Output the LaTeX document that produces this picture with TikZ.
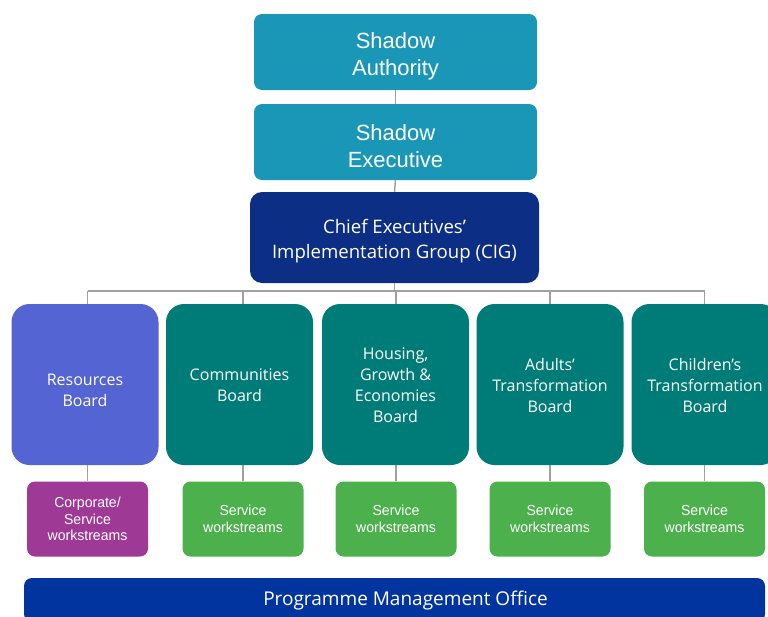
\documentclass[tikz,border=0pt]{standalone}
\usepackage{fontspec}
\setmainfont{Open Sans}
\newfontfamily\arialf{Liberation Sans}
\newfontfamily\narrowf[FakeStretch=0.97]{Liberation Sans}
\definecolor{shadowc}{RGB}{26,150,182}
\definecolor{cigc}{RGB}{12,46,132}
\definecolor{resc}{RGB}{84,100,210}
\definecolor{boardc}{RGB}{0,124,120}
\definecolor{corpc}{RGB}{158,58,150}
\definecolor{servc}{RGB}{76,176,76}
\definecolor{pmoc}{RGB}{2,52,160}
\definecolor{linec}{RGB}{160,160,160}
\tikzset{
  basebox/.style={inner sep=0pt, anchor=center},
  lab/.style={inner sep=0pt, align=center, text=white, anchor=center},
  shadowtxt/.style={lab, yshift=-4pt, font=\arialf\fontsize{22}{27}\selectfont},
  cigtxt/.style={lab, yshift=-4pt, font=\fontsize{18.6}{25}\selectfont},
  boardtxt/.style={lab, yshift=-1pt, font=\fontsize{16}{21}\selectfont},
  wstxt/.style={lab, font=\narrowf\fontsize{14.5}{16.5}\selectfont},
  pmotxt/.style={lab, xshift=11pt, yshift=-1pt, font=\fontsize{19}{22}\selectfont},
  shadowbox/.style={basebox, fill=shadowc, rounded corners=8pt, minimum width=283pt, minimum height=76pt},
  cigbox/.style={basebox, fill=cigc, rounded corners=12pt, minimum width=289pt, minimum height=91pt},
  boardbox/.style={basebox, fill=boardc, rounded corners=18pt, minimum width=147pt, minimum height=161pt},
  wsbox/.style={basebox, fill=servc, rounded corners=8pt, minimum width=121pt, minimum height=75pt},
  pmobox/.style={basebox, fill=pmoc, rounded corners=8pt, minimum width=741pt, minimum height=44pt},
  conn/.style={draw=linec, line width=1.5pt}
}
\begin{document}
\begin{tikzpicture}[x=1pt,y=-1pt]
\useasboundingbox (0,0) rectangle (768,616);
\coordinate (bus) at (0,291);
\node[shadowbox, label={[shadowtxt]center:{Shadow\\Authority}}] (auth) at (395.5,52) {};
\node[shadowbox, label={[shadowtxt]center:{Shadow\\Executive}}] (exec) at (395.5,142) {};
\node[cigbox, label={[cigtxt]center:{Chief Executives’\\Implementation Group (CIG)}}] (cig) at (394.5,237.5) {};
\node[boardbox, fill=resc, label={[boardtxt, yshift=-5pt]center:{Resources\\Board}}] (b1) at (85,384.5) {};
\node[boardbox, label={[boardtxt]center:{Communities\\Board}}] (b2) at (239.5,384.5) {};
\node[boardbox, label={[boardtxt]center:{Housing,\\Growth \&\\Economies\\Board}}] (b3) at (395.5,384.5) {};
\node[boardbox, label={[boardtxt]center:{Adults’\\Transformation\\Board}}] (b4) at (550,384.5) {};
\node[boardbox, label={[boardtxt]center:{Children’s\\Transformation\\Board}}] (b5) at (705,384.5) {};
\node[wsbox, fill=corpc, label={[wstxt]center:{Corporate/\\Service\\workstreams}}] (w1) at (87.5,519) {};
\node[wsbox, label={[wstxt]center:{Service\\workstreams}}] (w2) at (243,519) {};
\node[wsbox, label={[wstxt]center:{Service\\workstreams}}] (w3) at (396,519) {};
\node[wsbox, label={[wstxt]center:{Service\\workstreams}}] (w4) at (550,519) {};
\node[wsbox, label={[wstxt]center:{Service\\workstreams}}] (w5) at (704.5,519) {};
\node[pmobox, label={[pmotxt]center:{Programme Management Office}}] (pmo) at (394.5,600) {};
\draw[conn] (auth.south) -- (exec.north);
\draw[conn] (exec.south) -- (cig.north);
\draw[conn] (cig.south) -- (cig.south |- bus);
\draw[conn] (w1.north |- bus) -- (w5.north |- bus);
\foreach \i in {1,...,5}{
  \draw[conn] (w\i.north |- bus) -- (w\i.north |- b\i.north);
  \draw[conn] (w\i.north |- b\i.south) -- (w\i.north);
}
\end{tikzpicture}
\end{document}
